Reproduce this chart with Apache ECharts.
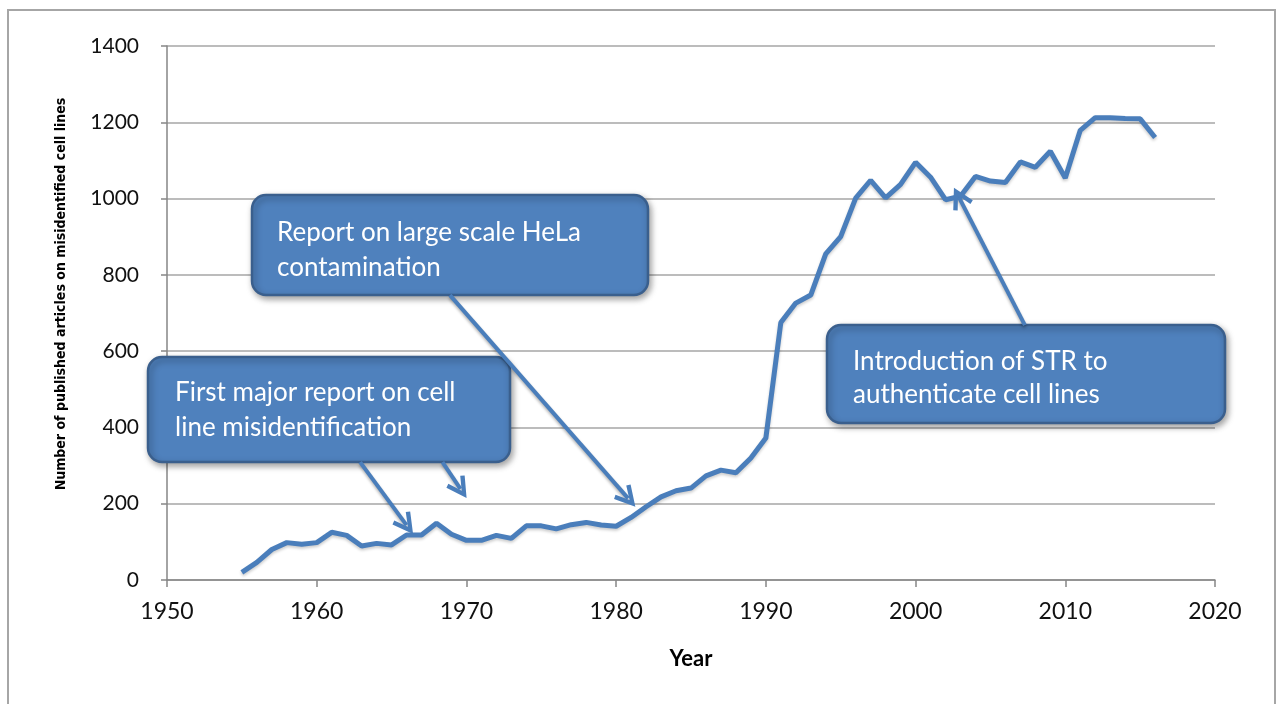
<!DOCTYPE html>
<html>
<head>
<meta charset="utf-8">
<title>Misidentified cell lines</title>
<script src="https://cdn.jsdelivr.net/npm/echarts@6/dist/echarts.min.js"></script>
<style>
  html, body { margin: 0; padding: 0; background: #fff; }
  #main { width: 1278px; height: 704px; }
</style>
</head>
<body>
<div id="main"></div>
<script>
// years and article counts
var years = [1955, 1956, 1957, 1958, 1959, 1960, 1961, 1962, 1963, 1964,
    1965, 1966, 1967, 1968, 1969, 1970, 1971, 1972, 1973, 1974,
    1975, 1976, 1977, 1978, 1979, 1980, 1981, 1982, 1983, 1984,
    1985, 1986, 1987, 1988, 1989, 1990, 1991, 1992, 1993, 1994,
    1995, 1996, 1997, 1998, 1999, 2000, 2001, 2002, 2003, 2004,
    2005, 2006, 2007, 2008, 2009, 2010, 2011, 2012, 2013, 2014,
    2015, 2016];
var articles = [20, 46, 80, 98, 94, 98, 125, 117, 89, 96,
    92, 118, 118, 149, 120, 104, 104, 117, 109, 142,
    142, 134, 145, 151, 144, 141, 164, 192, 218, 234,
    241, 273, 288, 281, 320, 372, 675, 726, 747, 855,
    900, 1001, 1048, 1002, 1037, 1095, 1056, 997, 1006, 1058,
    1046, 1042, 1096, 1082, 1124, 1054, 1179, 1212, 1212, 1210,
    1209, 1160];

// callout arrows: [fromYear, fromValue, toYear, toValue]
var arrows = [
    [1962.9, 309, 1966.0, 144],
    [1968.4, 309, 1969.6, 239],
    [1968.9, 747, 1980.8, 214],
    [2007.3, 668, 2002.9, 1003]
];

// callout texts
var notes = [
    'First major report on cell\nline misidentification',
    'Report on large scale HeLa\ncontamination',
    'Introduction of STR to\nauthenticate cell lines'
];

var seriesData = [];
for (var i = 0; i < years.length; i++) {
    seriesData.push([years[i], articles[i]]);
}

var arrowData = [];
for (var a = 0; a < arrows.length; a++) {
    arrowData.push([
        { coord: [arrows[a][0], arrows[a][1]] },
        { coord: [arrows[a][2], arrows[a][3]] }
    ]);
}

var FONT = 'Lato, "Open Sans", sans-serif';
var blue = '#4a7ebb';

function noteBox(x, y, w, h, text, tx, ty, lh) {
    return {
        type: 'group',
        children: [
            {
                type: 'rect',
                z: 100,
                shape: { x: x, y: y, width: w, height: h, r: 14 },
                style: {
                    fill: '#4f81bd',
                    stroke: '#3a5f8d',
                    lineWidth: 2.5,
                    shadowBlur: 6,
                    shadowOffsetX: 2,
                    shadowOffsetY: 3,
                    shadowColor: 'rgba(0,0,0,0.35)'
                }
            },
            {
                type: 'text',
                z: 101,
                x: tx,
                y: ty,
                style: {
                    text: text,
                    fill: '#ffffff',
                    font: '26px ' + FONT,
                    lineHeight: lh,
                    verticalAlign: 'top'
                }
            }
        ]
    };
}

var chart = echarts.init(document.getElementById('main'), null, { renderer: 'canvas' });

var option = {
    animation: false,
    backgroundColor: '#ffffff',
    grid: {
        left: 167,
        right: 63,
        top: 46,
        bottom: 124,
        containLabel: false,
        outerBoundsMode: 'none'
    },
    xAxis: {
        type: 'value',
        min: 1950,
        max: 2020,
        interval: 10,
        name: 'Year',
        nameLocation: 'middle',
        nameGap: 68,
        nameTextStyle: {
            fontFamily: FONT,
            fontWeight: 'bold',
            fontSize: 22,
            color: '#000'
        },
        axisLine: { show: true, lineStyle: { color: '#868686', width: 1.5 } },
        axisTick: { show: true, length: 7, lineStyle: { color: '#868686', width: 1.5 } },
        axisLabel: {
            margin: 20,
            fontFamily: FONT,
            fontSize: 23,
            color: '#111',
            formatter: function (v) { return String(v); }
        },
        splitLine: { show: false }
    },
    yAxis: {
        type: 'value',
        min: 0,
        max: 1400,
        interval: 200,
        axisLine: { show: true, lineStyle: { color: '#868686', width: 1.5 } },
        axisTick: { show: true, length: 6, lineStyle: { color: '#868686', width: 1.5 } },
        axisLabel: {
            margin: 28,
            fontFamily: FONT,
            fontSize: 21,
            color: '#111',
            formatter: function (v) { return String(v); }
        },
        splitLine: { show: true, lineStyle: { color: '#a6a6a6', width: 1.5 } }
    },
    series: [
        {
            name: 'articles',
            type: 'line',
            data: seriesData,
            showSymbol: false,
            symbol: 'none',
            lineStyle: {
                color: blue,
                width: 5,
                shadowBlur: 3,
                shadowColor: 'rgba(0,0,0,0.2)',
                shadowOffsetY: 2
            },
            emphasis: { disabled: true },
            markLine: {
                silent: true,
                z: 120,
                // open chevron head like the hand-drawn arrows
                symbol: ['none', 'path://M10,0 L20,18 L16.5,20 L10,8 L3.5,20 L0,18 Z'],
                symbolSize: [22, 22],
                label: { show: false },
                lineStyle: {
                    color: blue,
                    width: 4,
                    type: 'solid',
                    shadowBlur: 3,
                    shadowColor: 'rgba(0,0,0,0.3)',
                    shadowOffsetY: 2
                },
                itemStyle: { color: blue },
                emphasis: { disabled: true },
                data: arrowData
            }
        }
    ],
    graphic: [
        {
            // frame round the whole figure
            type: 'rect',
            z: 0,
            shape: { x: 8, y: 10, width: 1267, height: 720 },
            style: { fill: 'none', stroke: '#a6a6a6', lineWidth: 2 }
        },
        {
            type: 'text',
            x: 61,
            y: 294,
            rotation: Math.PI / 2,
            style: {
                text: 'Number of published articles on misidentified cell lines',
                font: 'bold 14px "Liberation Sans Narrow", "DejaVu Sans Condensed", sans-serif',
                fill: '#000',
                align: 'center',
                verticalAlign: 'middle'
            }
        },
        noteBox(148, 357, 362, 105, notes[0], 175, 375, 35),
        noteBox(252, 195, 396, 100, notes[1], 277, 215, 35),
        noteBox(827, 325, 398, 98, notes[2], 853, 345, 33)
    ]
};

chart.setOption(option);
</script>
</body>
</html>
